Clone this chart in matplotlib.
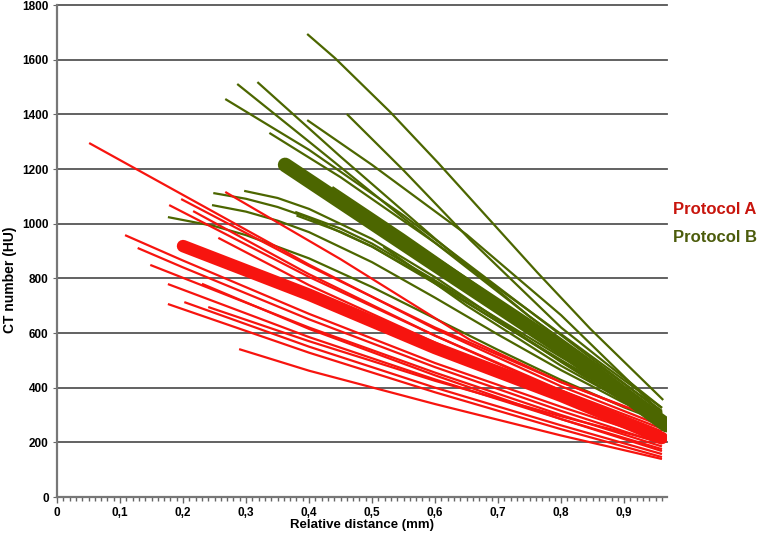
import matplotlib
matplotlib.use('Agg')
import matplotlib.pyplot as plt
from matplotlib.ticker import MultipleLocator, FuncFormatter

# Protocol A (red) single curves
protocol_a_x = [
    [0.051, 0.2, 0.4, 0.6, 0.8, 0.96],
    [0.197, 0.4, 0.6, 0.8, 0.96],
    [0.178, 0.4, 0.6, 0.8, 0.96],
    [0.216, 0.4, 0.6, 0.8, 0.96],
    [0.267, 0.45, 0.656, 0.8, 0.905],
    [0.256, 0.4, 0.6, 0.8, 0.96],
    [0.108, 0.2, 0.4, 0.6, 0.8, 0.96],
    [0.128, 0.2, 0.4, 0.6, 0.8, 0.96],
    [0.148, 0.4, 0.6, 0.8, 0.96],
    [0.176, 0.4, 0.6, 0.8, 0.96],
    [0.23, 0.4, 0.6, 0.8, 0.96],
    [0.202, 0.4, 0.6, 0.8, 0.96],
    [0.176, 0.4, 0.6, 0.8, 0.96],
    [0.289, 0.4, 0.6, 0.8, 0.96],
    [0.24, 0.4, 0.6, 0.8, 0.96],
]
protocol_a_y = [
    [1295, 1105, 850, 615, 405, 260],
    [1090, 845, 620, 420, 280],
    [1068, 805, 590, 390, 250],
    [1046, 815, 590, 385, 240],
    [1116, 870, 574, 420, 326],
    [948, 775, 565, 370, 230],
    [958, 865, 670, 490, 330, 210],
    [911, 840, 650, 475, 315, 195],
    [849, 620, 455, 300, 185],
    [779, 585, 430, 285, 175],
    [780, 615, 445, 285, 168],
    [713, 550, 400, 262, 157],
    [706, 528, 383, 248, 146],
    [541, 462, 340, 225, 139],
    [695, 570, 425, 295, 200],
]
# Protocol A mean curve
mean_a_x = [0.2, 0.4, 0.6, 0.8, 0.96]
mean_a_y = [918, 740, 545, 370, 216]

# Protocol B (green) single curves
protocol_b_x = [
    [0.397, 0.441, 0.529, 0.605, 0.687, 0.762, 0.846, 0.962],
    [0.318, 0.45, 0.6, 0.75, 0.96],
    [0.286, 0.4, 0.55, 0.75, 0.96],
    [0.267, 0.4, 0.55, 0.75, 0.96],
    [0.337, 0.45, 0.6, 0.75, 0.96],
    [0.397, 0.5, 0.65, 0.8, 0.96],
    [0.46, 0.55, 0.656, 0.8, 0.96],
    [0.437, 0.55, 0.7, 0.85, 0.96],
    [0.248, 0.3, 0.35, 0.4, 0.5, 0.6, 0.7, 0.8, 0.9, 0.96],
    [0.297, 0.35, 0.4, 0.5, 0.6, 0.7, 0.8, 0.9, 0.96],
    [0.246, 0.3, 0.35, 0.4, 0.5, 0.6, 0.7, 0.8, 0.9, 0.96],
    [0.176, 0.25, 0.3, 0.4, 0.5, 0.6, 0.7, 0.8, 0.9, 0.96],
    [0.378, 0.45, 0.5, 0.6, 0.7, 0.8, 0.9, 0.96],
    [0.38, 0.45, 0.5, 0.6, 0.7, 0.8, 0.9, 0.96],
    [0.518, 0.65, 0.8, 0.96],
]
protocol_b_y = [
    [1694, 1606, 1408, 1222, 1013, 822, 616, 355],
    [1518, 1245, 945, 660, 315],
    [1511, 1300, 1020, 660, 300],
    [1456, 1270, 1030, 680, 326],
    [1332, 1170, 930, 680, 310],
    [1379, 1215, 960, 665, 306],
    [1401, 1195, 940, 620, 326],
    [1134, 960, 720, 480, 290],
    [1112, 1091, 1061, 1021, 916, 786, 641, 496, 361, 286],
    [1120, 1094, 1054, 944, 804, 649, 494, 349, 268],
    [1068, 1044, 1011, 969, 859, 729, 594, 464, 344, 278],
    [1024, 991, 958, 873, 768, 653, 538, 428, 328, 274],
    [1043, 982, 927, 792, 652, 512, 377, 299],
    [1030, 970, 916, 781, 641, 501, 366, 288],
    [915, 700, 480, 275],
]
# Protocol B mean curve
mean_b_x = [0.362, 0.6, 0.8, 0.967]
mean_b_y = [1215, 850, 545, 263]

red = '#f7140f'
green = '#4c6600'
font = ['Liberation Sans', 'DejaVu Sans']
plt.rcParams['font.family'] = font
plt.rcParams['font.weight'] = 'bold'

fig = plt.figure(figsize=(7.61, 5.44), dpi=100)
ax = fig.add_axes([57 / 761, 47 / 544, 610 / 761, 492 / 544])

#gridlines first so the curves sit on top
for yv in range(200, 1801, 200):
    ax.axhline(yv, color='#555555', lw=1.3, zorder=1, clip_on=False)

for xs, ys in zip(protocol_b_x, protocol_b_y):
    ax.plot(xs, ys, color=green, lw=1.6, solid_capstyle='butt', zorder=2)
for xs, ys in zip(protocol_a_x, protocol_a_y):
    ax.plot(xs, ys, color=red, lw=1.6, solid_capstyle='butt', zorder=3)
ax.plot(mean_b_x, mean_b_y, color=green, lw=10.5, solid_capstyle='round', zorder=4)
ax.plot(mean_a_x, mean_a_y, color=red, lw=9, solid_capstyle='round', zorder=5)

ax.set_xlim(0, 0.968)
ax.set_ylim(0, 1800)

for s in ['top', 'right']:
    ax.spines[s].set_visible(False)
for s in ['left', 'bottom']:
    ax.spines[s].set_color('#777777')
    ax.spines[s].set_linewidth(1.6)

ax.xaxis.set_major_locator(MultipleLocator(0.1))
ax.xaxis.set_minor_locator(MultipleLocator(0.01))
ax.yaxis.set_major_locator(MultipleLocator(200))
ax.xaxis.set_major_formatter(FuncFormatter(lambda v, p: '0' if abs(v) < 1e-9 else ('%.1f' % v).replace('.', ',')))
ax.tick_params(axis='x', which='both', direction='out', color='#666666', width=1)
ax.tick_params(axis='x', which='major', length=4, pad=3, labelsize=8.5)
ax.tick_params(axis='x', which='minor', length=3)
ax.tick_params(axis='y', which='major', direction='out', length=3, color='#666666', pad=3, labelsize=8.5)

fig.text(10 / 761, 1 - 280 / 544, 'CT number (HU)', rotation=90, ha='center', va='center',
         fontsize=10, fontweight='bold')
fig.text(362 / 761, 1 - 525 / 544, 'Relative distance (mm)', ha='center', va='center',
         fontsize=9.5, fontweight='bold')

fig.text(673 / 761, 1 - 210 / 544, 'Protocol A', color='#c8150d', ha='left', va='center',
         fontsize=12, fontweight='bold')
fig.text(673 / 761, 1 - 237 / 544, 'Protocol B', color='#4c5c0c', ha='left', va='center',
         fontsize=12, fontweight='bold')

fig.savefig('out.png', dpi=100)
